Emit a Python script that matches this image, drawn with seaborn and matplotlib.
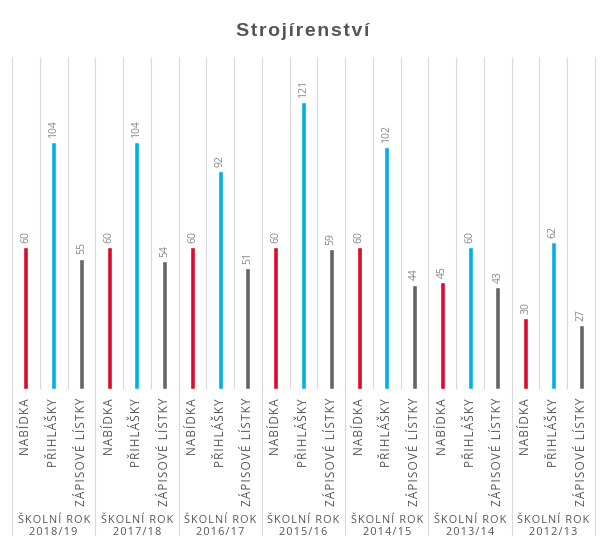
import matplotlib.pyplot as plt
import matplotlib.transforms as mtransforms
import pandas as pd
import seaborn as sns

years = ["2018/19", "2017/18", "2016/17", "2015/16", "2014/15", "2013/14", "2012/13"]
kinds = ["NABÍDKA", "PŘIHLÁŠKY", "ZÁPISOVÉ LÍSTKY"]
nabidka = [60, 60, 60, 60, 60, 45, 30]
prihlasky = [104, 104, 92, 121, 102, 60, 62]
zapisove = [55, 54, 51, 59, 44, 43, 27]
colors = ["#dc0a2d", "#00b0e6", "#666666"]

rows = []
for i, year in enumerate(years):
    for j, (kind, vals) in enumerate(zip(kinds, [nabidka, prihlasky, zapisove])):
        rows.append({"slot": i * 3 + j, "kind": kind, "value": vals[i], "year": year})
df = pd.DataFrame(rows)


def spaced(s):
    # fake letter spacing with hair spaces
    return "\u200a".join(s)


sns.set_theme(style="white")
plt.rcParams["font.family"] = ["Open Sans", "DejaVu Sans"]

fig = plt.figure(figsize=(6.05, 5.53), dpi=100)
ax = fig.add_axes([12 / 605, 1 - 389 / 553, 583 / 605, 332 / 553])

sns.barplot(data=df, x="slot", y="value", hue="kind", palette=colors,
            saturation=1, dodge=False, width=0.18, legend=False, ax=ax)

ax.set_xlim(-0.5, len(df) - 0.5)
ax.set_ylim(0, 140)
ax.set_xlabel("")
ax.set_ylabel("")
ax.set_xticks([])
ax.set_yticks([])
for s in ax.spines.values():
    s.set_visible(False)

grid_c = "#d9d9d9"
ax.axhline(0, color=grid_c, lw=0.8)
trans = mtransforms.blended_transform_factory(ax.transData, ax.transAxes)
for b in range(len(df) + 1):
    x = b - 0.5
    if b % 3 == 0:
        ax.plot([x, x], [-146 / 332, 1], color=grid_c, lw=0.8,
                transform=trans, clip_on=False)
    else:
        ax.plot([x, x], [0, 1], color=grid_c, lw=0.8, transform=trans)

for _, r in df.iterrows():
    ax.annotate(str(r["value"]), (r["slot"], r["value"]), xytext=(0, 3),
                textcoords="offset points", rotation=90, ha="center", va="bottom",
                fontsize=7.5, color="#888888")
    ax.text(r["slot"], -9 / 332, spaced(r["kind"]), transform=trans, rotation=90,
            ha="center", va="top", fontsize=8.5, color="#555555")

for i, year in enumerate(years):
    ax.text(i * 3 + 1, -126 / 332, spaced("ŠKOLNÍ ROK") + "\n" + spaced(year),
            transform=trans, ha="center", va="top", fontsize=7.8,
            color="#555555", linespacing=1.15)

fig.text(0.5, 1 - 32 / 553, "S\u200at\u200ar\u200ao\u200aj\u200aí\u200ar\u200ae\u200an\u200as\u200at\u200av\u200aí",
         ha="center", va="center", fontsize=14, fontweight="bold",
         color="#555555", family=["Liberation Sans", "DejaVu Sans"])

fig.savefig("out.png", dpi=100)
